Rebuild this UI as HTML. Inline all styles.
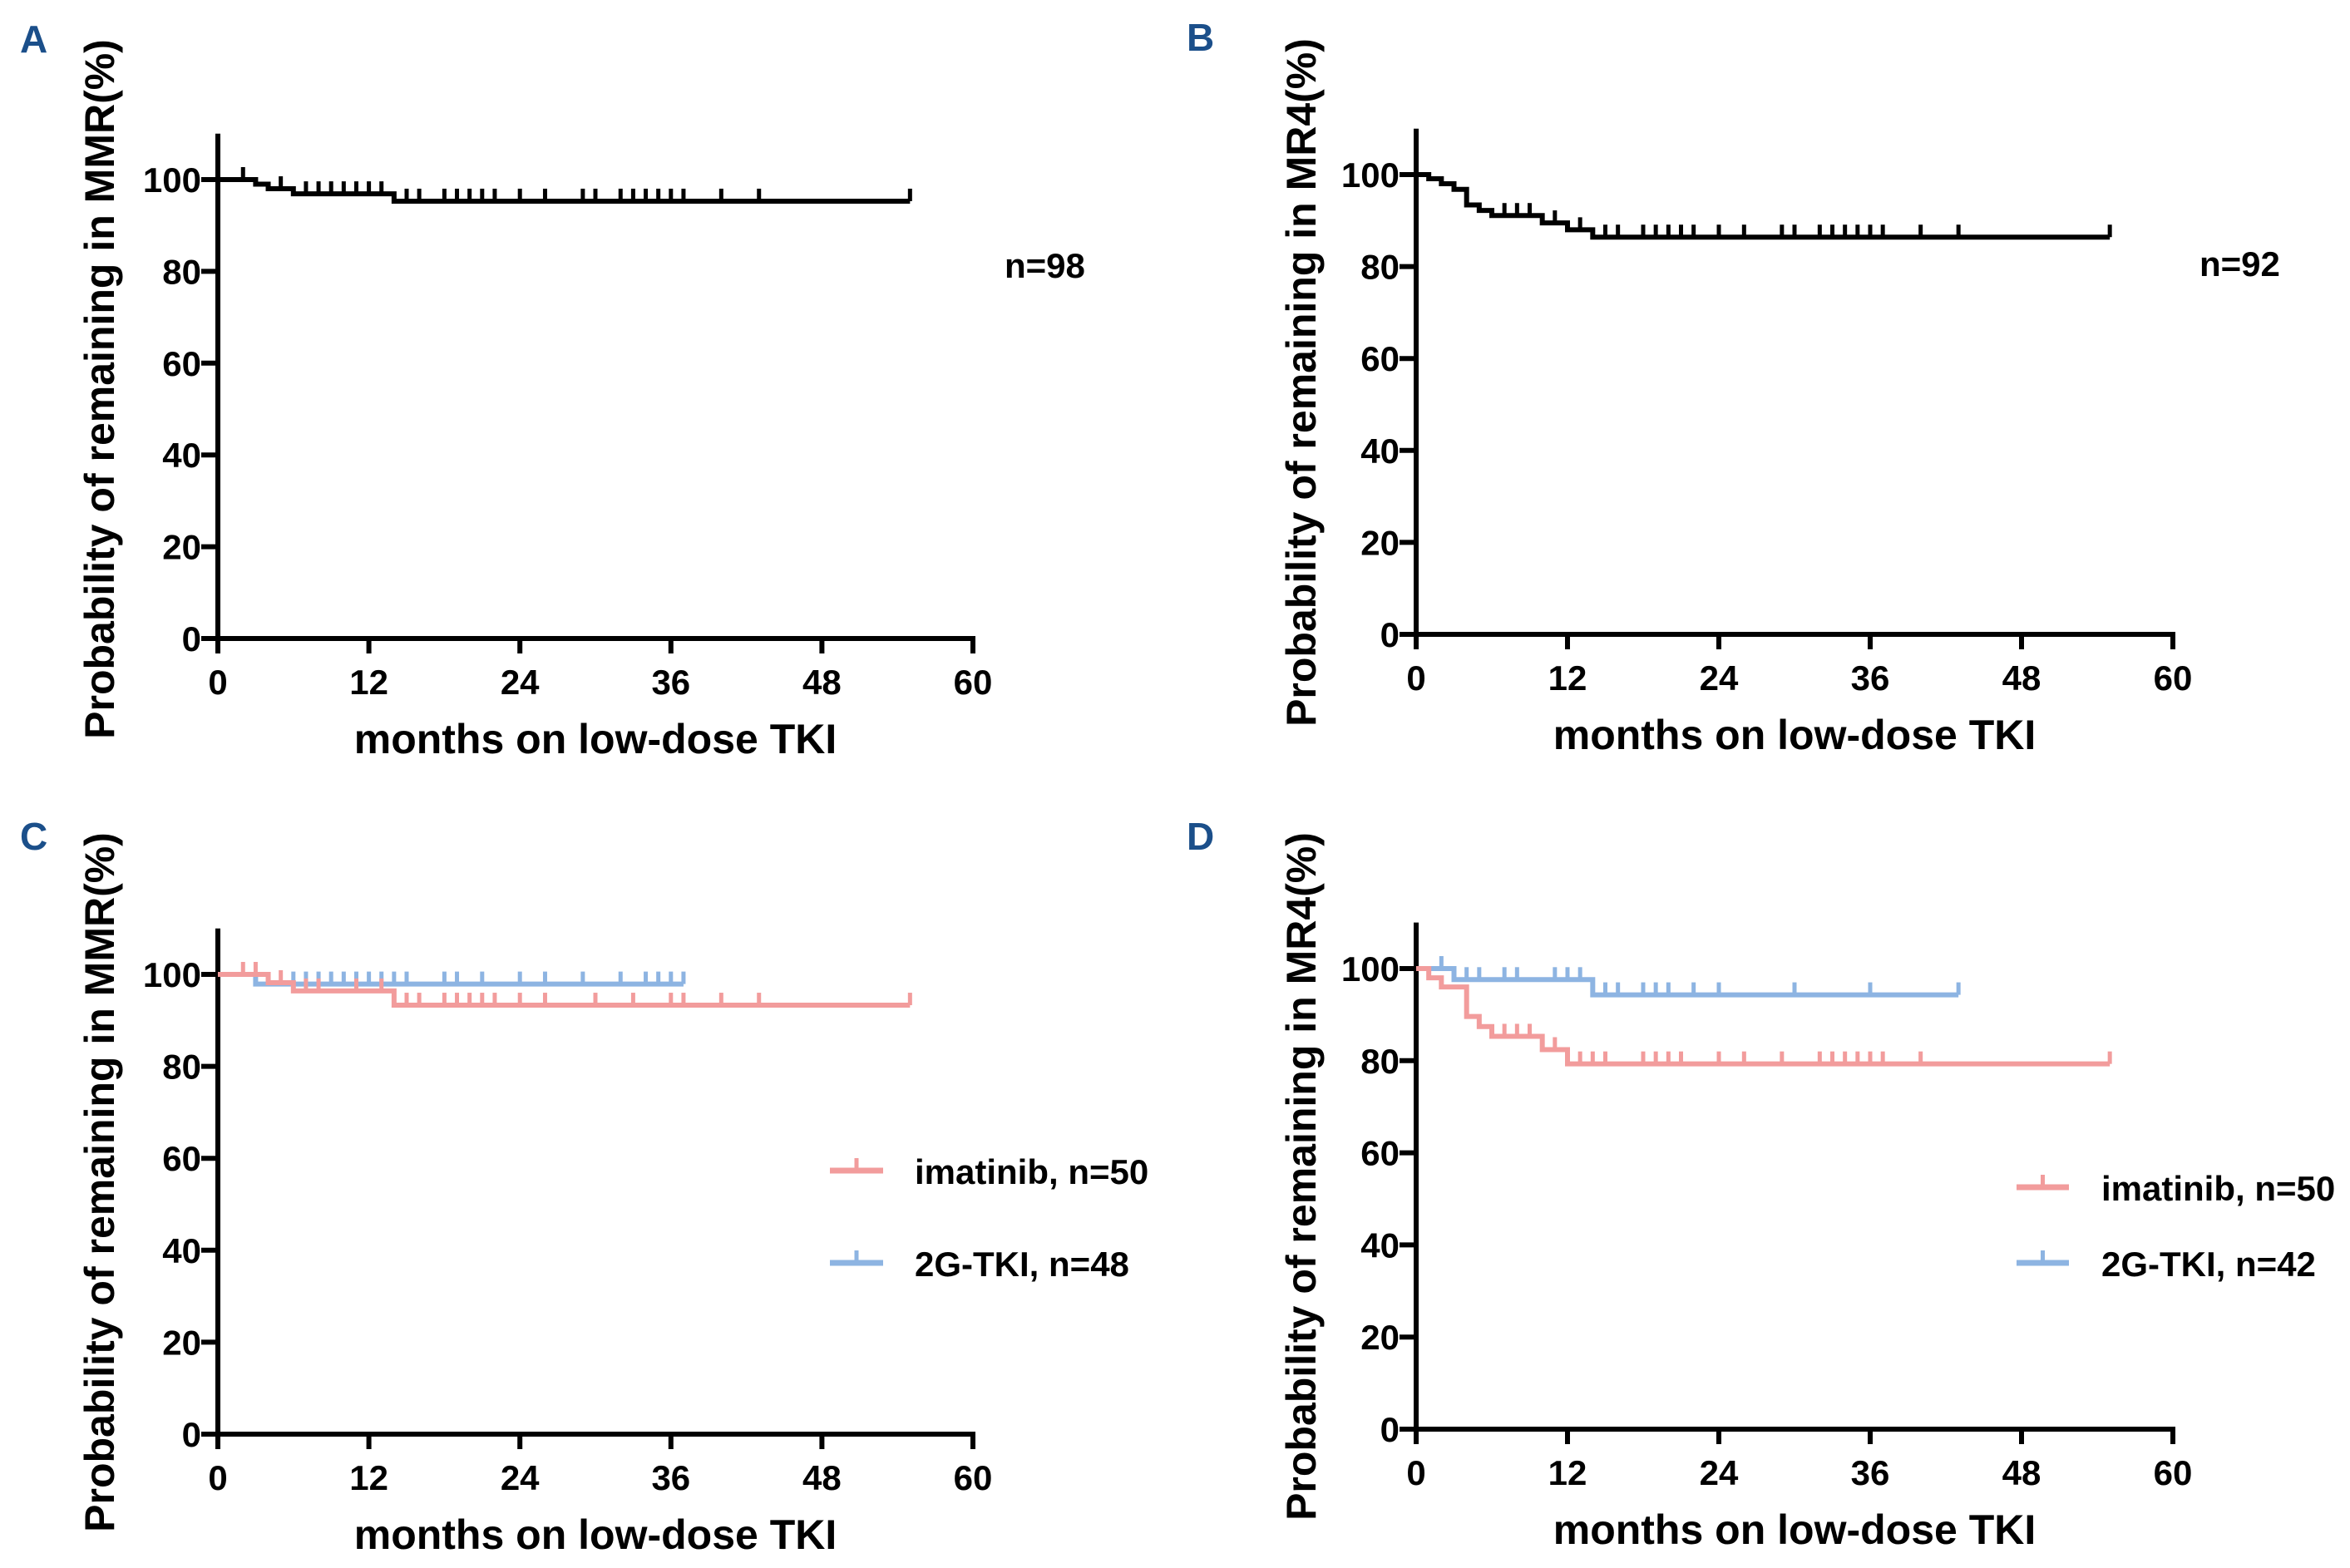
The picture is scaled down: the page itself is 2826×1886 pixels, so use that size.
<!DOCTYPE html>
<html><head><meta charset="utf-8"><title>Kaplan-Meier curves</title>
<style>
html,body{margin:0;padding:0;background:#fff;}
svg{display:block;}
text{font-family:"Liberation Sans",Arial,sans-serif;font-weight:bold;}
</style></head>
<body>
<svg id="fig" width="2826" height="1886" viewBox="0 0 2826 1886" xmlns="http://www.w3.org/2000/svg">
<rect width="2826" height="1886" fill="#fff"/>
</svg>
<script>
// ---- data ----
const xTickLabels = [0, 12, 24, 36, 48, 60];
const yTickLabels = [0, 20, 40, 60, 80, 100];

const timesA = [0, 3, 4, 6, 14];
const valsA = [100, 99.0, 98.0, 96.9, 95.3];
const censorA = [2, 5, 7, 8, 9, 10, 11, 12, 13, 15, 16, 18, 19, 20, 21, 22, 24, 26, 29, 30, 32, 33, 34, 35, 36, 37, 40, 43];
const endA = 55;

const timesB = [0, 1, 2, 3, 4, 5, 6, 10, 12, 14];
const valsB = [100, 99.1, 98.0, 96.8, 93.4, 92.2, 91.1, 89.5, 88.0, 86.4];
const censorB = [7, 8, 9, 11, 13, 15, 16, 18, 19, 20, 21, 22, 24, 26, 29, 30, 32, 33, 34, 35, 36, 37, 40, 43];
const endB = 55;

const timesCImatinib = [0, 4, 6, 14];
const valsCImatinib = [100, 98.2, 96.4, 93.3];
const censorCImatinib = [2, 3, 5, 7, 8, 11, 13, 15, 16, 18, 19, 20, 21, 22, 24, 26, 30, 33, 36, 37, 40, 43];
const endCImatinib = 55;

const timesC2G = [0, 3];
const valsC2G = [100, 97.9];
const censorC2G = [6, 7, 8, 9, 10, 11, 12, 13, 14, 15, 18, 19, 21, 24, 26, 29, 32, 34, 35, 36];
const endC2G = 37;

const timesDImatinib = [0, 1, 2, 4, 5, 6, 10, 12];
const valsDImatinib = [100, 98.0, 96.0, 89.6, 87.4, 85.3, 82.4, 79.3];
const censorDImatinib = [7, 8, 9, 11, 13, 14, 15, 18, 19, 20, 21, 24, 26, 29, 32, 33, 34, 35, 36, 37, 40];
const endDImatinib = 55;

const timesD2G = [0, 3, 14];
const valsD2G = [100, 97.6, 94.3];
const censorD2G = [2, 4, 5, 7, 8, 11, 12, 13, 15, 16, 18, 19, 20, 22, 24, 30, 36];
const endD2G = 43;

// ---- drawing ----
const NS = "http://www.w3.org/2000/svg";
const svg = document.getElementById("fig");
const BLACK = "#000", PINK = "#F29C9C", BLUE = "#8DB4E2";

function mk(tag, attrs, parent) {
  const e = document.createElementNS(NS, tag);
  for (const k in attrs) e.setAttribute(k, attrs[k]);
  (parent || svg).appendChild(e);
  return e;
}

function drawPanel(p) {
  const g = mk("g", {});
  
  
  const xs = v => p.x0 + (v / 60) * (p.x60 - p.x0);
  const ys = v => p.y0 - (v / 100) * (p.y0 - p.y100);
  p.xs = xs; p.ys = ys;

  const letter = mk("text", {x: p.lx, y: p.ly, "font-size": 46, fill: "#1B4F8A"}, g);
  letter.textContent = p.id.toUpperCase();
  
  

  const yax = mk("line", {x1: xs(0), y1: ys(110), x2: xs(0), y2: ys(0) + 3, stroke: BLACK, "stroke-width": 6}, g);
  
  
  const xax = mk("line", {x1: xs(0) - 3, y1: ys(0), x2: xs(60) + 3, y2: ys(0), stroke: BLACK, "stroke-width": 6}, g);
  
  

  yTickLabels.forEach(v => {
    const t = mk("line", {x1: xs(0) - 20, y1: ys(v), x2: xs(0), y2: ys(v), stroke: BLACK, "stroke-width": 6}, g);
    
    
    const l = mk("text", {x: xs(0) - 20, y: ys(v) + 15, "font-size": 42, "text-anchor": "end", fill: BLACK}, g);
    l.textContent = v;
    
    
  });
  xTickLabels.forEach(v => {
    const t = mk("line", {x1: xs(v), y1: ys(0), x2: xs(v), y2: ys(0) + 18, stroke: BLACK, "stroke-width": 6}, g);
    
    
    const l = mk("text", {x: xs(v), y: ys(0) + 67, "font-size": 42, "text-anchor": "middle", fill: BLACK}, g);
    l.textContent = v;
    
    
  });

  const xt = mk("text", {x: (xs(0) + xs(60)) / 2, y: ys(0) + 138, "font-size": 50, "text-anchor": "middle", fill: BLACK}, g);
  xt.textContent = "months on low-dose TKI";
  
  

  const yt = mk("text", {x: 0, y: 0, "font-size": 50, "text-anchor": "middle", "dominant-baseline": "central", fill: BLACK,
    transform: "translate(" + p.ytx + "," + p.yty + ") rotate(-90)"}, g);
  yt.textContent = p.ytitle;
  
  
  return g;
}

function drawCurve(p, g, times, vals, censor, end, color, name) {
  const xs = p.xs, ys = p.ys;
  let d = "M" + xs(times[0]) + "," + ys(vals[0]);
  for (let i = 1; i < times.length; i++) {
    d += " H" + xs(times[i]) + " V" + ys(vals[i]);
  }
  d += " H" + xs(end);
  const path = mk("path", {d: d, fill: "none", stroke: color, "stroke-width": 6, "stroke-linejoin": "miter"}, g);
  
  

  const levelAt = t => { let v = vals[0]; for (let i = 0; i < times.length; i++) if (times[i] <= t) v = vals[i]; return v; };
  censor.concat([end]).forEach(t => {
    const y = ys(levelAt(t));
    const c = mk("line", {x1: xs(t), y1: y, x2: xs(t), y2: y - 15, stroke: color, "stroke-width": 5}, g);
    
    
  });
}

function drawLegend(g, x1, x2, y, tx, ty, color, label, name) {
  const lg = mk("g", {}, g);
  
  
  mk("line", {x1: x1, y1: y, x2: x2, y2: y, stroke: color, "stroke-width": 7}, lg);
  mk("line", {x1: (x1 + x2) / 2, y1: y, x2: (x1 + x2) / 2, y2: y - 15, stroke: color, "stroke-width": 5}, lg);
  const t = mk("text", {x: tx, y: ty, "font-size": 42, fill: BLACK}, lg);
  t.textContent = label;
}

function drawNote(g, x, y, label) {
  const t = mk("text", {x: x, y: y, "font-size": 42, fill: BLACK}, g);
  t.textContent = label;
  
  
}

const pA = {id: "a", x0: 262, x60: 1170, y0: 768, y100: 216, lx: 24, ly: 63, ytx: 120, yty: 468, ytitle: "Probability of remaining in MMR(%)"};
const pB = {id: "b", x0: 1703, x60: 2613, y0: 763, y100: 210, lx: 1427, ly: 61, ytx: 1565, yty: 460, ytitle: "Probability of remaining in MR4(%)"};
const pC = {id: "c", x0: 262, x60: 1170, y0: 1725, y100: 1172, lx: 24, ly: 1022, ytx: 120, yty: 1422, ytitle: "Probability of remaining in MMR(%)"};
const pD = {id: "d", x0: 1703, x60: 2613, y0: 1719, y100: 1165, lx: 1427, ly: 1022, ytx: 1565, yty: 1415, ytitle: "Probability of remaining in MR4(%)"};

const gA = drawPanel(pA);
drawCurve(pA, gA, timesA, valsA, censorA, endA, BLACK, "all-mmr");
drawNote(gA, 1208, 334, "n=98");

const gB = drawPanel(pB);
drawCurve(pB, gB, timesB, valsB, censorB, endB, BLACK, "all-mr4");
drawNote(gB, 2645, 332, "n=92");

const gC = drawPanel(pC);
drawCurve(pC, gC, timesC2G, valsC2G, censorC2G, endC2G, BLUE, "2g-tki");
drawCurve(pC, gC, timesCImatinib, valsCImatinib, censorCImatinib, endCImatinib, PINK, "imatinib");
drawLegend(gC, 998, 1062, 1408, 1100, 1424, PINK, "imatinib, n=50", "imatinib");
drawLegend(gC, 998, 1062, 1519, 1100, 1535, BLUE, "2G-TKI, n=48", "2g-tki");

const gD = drawPanel(pD);
drawCurve(pD, gD, timesD2G, valsD2G, censorD2G, endD2G, BLUE, "2g-tki");
drawCurve(pD, gD, timesDImatinib, valsDImatinib, censorDImatinib, endDImatinib, PINK, "imatinib");
drawLegend(gD, 2425, 2488, 1428, 2527, 1444, PINK, "imatinib, n=50", "imatinib");
drawLegend(gD, 2425, 2488, 1519, 2527, 1535, BLUE, "2G-TKI, n=42", "2g-tki");
</script>
</body></html>
